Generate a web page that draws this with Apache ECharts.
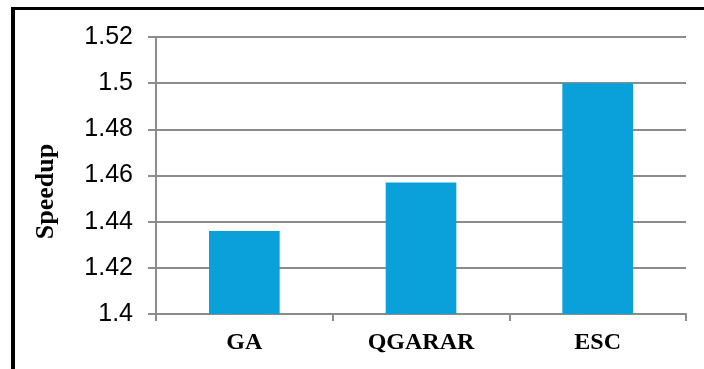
<!DOCTYPE html>
<html>
<head>
<meta charset="utf-8">
<script src="https://cdn.jsdelivr.net/npm/echarts@6/dist/echarts.min.js"></script>
<style>
  html, body { margin: 0; padding: 0; background: #fff; }
  #chart { width: 704px; height: 369px; }
</style>
</head>
<body>
<div id="chart"></div>
<script>
// Speedup per method
const categories = ['GA', 'QGARAR', 'ESC'];
const speedup = [1.436, 1.457, 1.5];
const yMin = 1.4;
const yMax = 1.52;
const yStep = 0.02;

const chart = echarts.init(document.getElementById('chart'), null, { renderer: 'canvas' });

const axisGray = '#8c8c8c';

chart.setOption({
  animation: false,
  backgroundColor: '#ffffff',
  grid: { left: 156, right: 18, top: 37, bottom: 55, containLabel: false },
  graphic: [
    { type: 'line', shape: { x1: 13, y1: 7, x2: 13, y2: 369 }, style: { stroke: '#000', lineWidth: 4 } },
    { type: 'line', shape: { x1: 11, y1: 8.5, x2: 704, y2: 8.5 }, style: { stroke: '#000', lineWidth: 3 } }
  ],
  xAxis: {
    type: 'category',
    data: categories,
    axisLine: { show: true, lineStyle: { color: axisGray, width: 2 } },
    axisTick: { show: true, alignWithLabel: false, length: 7, lineStyle: { color: axisGray, width: 2 } },
    axisLabel: {
      margin: 17,
      color: '#000',
      fontFamily: 'Liberation Serif',
      fontWeight: 'bold',
      fontSize: 24
    }
  },
  yAxis: {
    type: 'value',
    min: yMin,
    max: yMax,
    interval: yStep,
    name: 'Speedup',
    nameLocation: 'middle',
    nameGap: 97,
    nameRotate: 90,
    nameTextStyle: {
      color: '#000',
      fontFamily: 'Liberation Serif',
      fontWeight: 'bold',
      fontSize: 26,
      padding: [0, 32, 0, 0]
    },
    axisLine: { show: true, lineStyle: { color: axisGray, width: 2 } },
    axisTick: { show: true, inside: false, length: 8, lineStyle: { color: axisGray, width: 2 } },
    splitLine: { show: true, lineStyle: { color: axisGray, width: 2 } },
    axisLabel: {
      margin: 23,
      color: '#000',
      fontFamily: 'Liberation Sans',
      fontSize: 25,
      formatter: v => String(parseFloat(v.toFixed(2)))
    }
  },
  series: [{
    type: 'bar',
    data: speedup,
    barWidth: '40%',
    itemStyle: { color: '#0aa1db' }
  }]
});
</script>
</body>
</html>
